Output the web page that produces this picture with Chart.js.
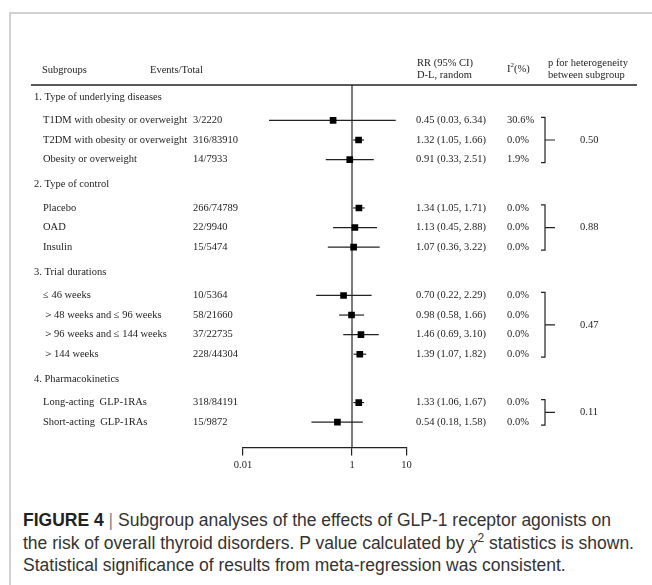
<!DOCTYPE html>
<html>
<head>
<meta charset="utf-8">
<script src="https://cdn.jsdelivr.net/npm/chart.js@4"></script>
<style>
  body { margin: 0; background: #fff; }
  #wrap { position: relative; width: 652px; height: 585px; overflow: hidden; }
  #frame { position: absolute; left: 9px; top: 12px; right: -4px; bottom: -4px;
           border-top: 2px solid #d0d0d0; border-left: 2px solid #d0d0d0; }
  #forest { position: absolute; left: 0; top: 0; }
  #caption { position: absolute; left: 23px; top: 509px; width: 629px; white-space: nowrap;
             font-family: "Liberation Sans", Arial, sans-serif; font-size: 17.5px;
             line-height: 22.5px; color: #333; }
  #caption b { color: #222; }
  #caption .bar { color: #888; }
  #caption .chi { font-family: "Liberation Serif", serif; font-style: italic; font-size: 19px; }
  #caption sup { font-size: 12px; line-height: 0; }
</style>
</head>
<body>
<div id="wrap">
  <div id="frame"></div>
  <canvas id="forest" width="652" height="500"></canvas>
  <div id="caption"><b>FIGURE 4</b> <span class="bar">|</span> Subgroup analyses of the effects of GLP-1 receptor agonists on<br>the risk of overall thyroid disorders. P value calculated by <span class="chi">χ</span><sup>2</sup> statistics is shown.<br>Statistical significance of results from meta-regression was consistent.</div>
</div>
<script>
// forest plot data
const sectionTitles = ["1. Type of underlying diseases", "2. Type of control", "3. Trial durations", "4. Pharmacokinetics"];
const subgroups = [
  "T1DM with obesity or overweight", "T2DM with obesity or overweight", "Obesity or overweight",
  "Placebo", "OAD", "Insulin",
  "≤ 46 weeks", "＞48 weeks and ≤ 96 weeks", "＞96 weeks and ≤ 144 weeks", "＞144 weeks",
  "Long-acting  GLP-1RAs", "Short-acting  GLP-1RAs"
];
const sectionOf = [0, 0, 0, 1, 1, 1, 2, 2, 2, 2, 3, 3];
const eventsTotal = ["3/2220", "316/83910", "14/7933", "266/74789", "22/9940", "15/5474",
  "10/5364", "58/21660", "37/22735", "228/44304", "318/84191", "15/9872"];
const rrEstimate = [0.45, 1.32, 0.91, 1.34, 1.13, 1.07, 0.70, 0.98, 1.46, 1.39, 1.33, 0.54];
const ciLower = [0.03, 1.05, 0.33, 1.05, 0.45, 0.36, 0.22, 0.58, 0.69, 1.07, 1.06, 0.18];
const ciUpper = [6.34, 1.66, 2.51, 1.71, 2.88, 3.22, 2.29, 1.66, 3.10, 1.82, 1.67, 1.58];
const i2Values = ["30.6%", "0.0%", "1.9%", "0.0%", "0.0%", "0.0%", "0.0%", "0.0%", "0.0%", "0.0%", "0.0%", "0.0%"];
const pHeterogeneity = ["0.50", "0.88", "0.47", "0.11"];
const axisTicks = [0.01, 1, 10];

// row positions in row units (section header, then its rows)
const sectionY = [];
const rowY = [];
let cursor = 0;
sectionTitles.forEach((t, s) => {
  sectionY.push(cursor);
  cursor += 1.2;
  sectionOf.forEach((sec, i) => {
    if (sec === s) { rowY[i] = cursor; cursor += 1; }
  });
  cursor += 0.27;
});

const INK = "#1c1c1c";
const SERIF = "'Liberation Serif', 'Times New Roman', serif";

const tablePlugin = {
  id: "forestTable",
  beforeDatasetsDraw(chart) {
    const { ctx, chartArea, scales } = chart;
    const x = scales.x, y = scales.y;
    ctx.save();
    ctx.strokeStyle = "#222";
    // header rule
    ctx.lineWidth = 1.5;
    ctx.beginPath();
    ctx.moveTo(31, chartArea.top);
    ctx.lineTo(637, chartArea.top);
    ctx.stroke();
    // line of no effect
    ctx.lineWidth = 1.2;
    ctx.beginPath();
    ctx.moveTo(x.getPixelForValue(1), chartArea.top);
    ctx.lineTo(x.getPixelForValue(1), chartArea.bottom);
    ctx.stroke();
    // confidence intervals
    ctx.lineWidth = 1.2;
    rrEstimate.forEach((v, i) => {
      const py = y.getPixelForValue(rowY[i]);
      ctx.beginPath();
      ctx.moveTo(x.getPixelForValue(ciLower[i]), py);
      ctx.lineTo(x.getPixelForValue(ciUpper[i]), py);
      ctx.stroke();
    });
    ctx.restore();
  },
  afterDatasetsDraw(chart) {
    const { ctx, scales } = chart;
    const y = scales.y;
    ctx.save();
    ctx.fillStyle = INK;
    ctx.strokeStyle = "#222";
    ctx.textBaseline = "middle";
    ctx.font = "10.5px " + SERIF;

    // column headers
    ctx.fillText("Subgroups", 42, 70);
    ctx.fillText("Events/Total", 150, 70);
    ctx.fillText("RR (95% CI)", 417, 63);
    ctx.fillText("D-L, random", 417, 75);
    ctx.fillText("I", 507, 69);
    const iw = ctx.measureText("I").width;
    ctx.font = "7px " + SERIF;
    ctx.fillText("2", 507 + iw, 65);
    const sw = ctx.measureText("2").width;
    ctx.font = "10.5px " + SERIF;
    ctx.fillText("(%)", 507 + iw + sw, 69);
    ctx.fillText("p for heterogeneity", 548, 63);
    ctx.fillText("between subgroup", 548, 75);

    sectionTitles.forEach((t, s) => ctx.fillText(t, 34, y.getPixelForValue(sectionY[s])));

    subgroups.forEach((name, i) => {
      const py = y.getPixelForValue(rowY[i]);
      ctx.fillText(name, 43, py);
      ctx.fillText(eventsTotal[i], 193, py);
      const rr = rrEstimate[i].toFixed(2) + " (" + ciLower[i].toFixed(2) + ", " + ciUpper[i].toFixed(2) + ")";
      ctx.fillText(rr, 416, py);
      ctx.fillText(i2Values[i], 507, py);
    });

    // brackets with subgroup-difference p values
    ctx.lineWidth = 1.2;
    pHeterogeneity.forEach((p, s) => {
      const ys = rowY.filter((v, i) => sectionOf[i] === s);
      const top = y.getPixelForValue(ys[0]) - 3;
      const bot = y.getPixelForValue(ys[ys.length - 1]) + 3;
      const mid = (top + bot) / 2;
      ctx.beginPath();
      ctx.moveTo(541, top);
      ctx.lineTo(545, top);
      ctx.lineTo(545, bot);
      ctx.lineTo(541, bot);
      ctx.moveTo(545, mid);
      ctx.lineTo(555, mid);
      ctx.stroke();
      ctx.fillText(p, 580, mid);
    });
    ctx.restore();
  }
};

const points = rrEstimate.map((v, i) => ({ x: v, y: rowY[i] }));

new Chart(document.getElementById("forest"), {
  type: "scatter",
  data: {
    datasets: [{
      data: points,
      pointStyle: "rect",
      pointRadius: 4.7,
      backgroundColor: "#000",
      borderColor: "#000",
      borderWidth: 0
    }]
  },
  options: {
    responsive: false,
    animation: false,
    events: [],
    layout: { padding: { left: 243, right: 245.5, top: 85, bottom: 24 } },
    plugins: { legend: { display: false }, tooltip: { enabled: false } },
    scales: {
      x: {
        type: "logarithmic",
        min: 0.01,
        max: 10,
        afterBuildTicks: scale => { scale.ticks = axisTicks.map(v => ({ value: v })); },
        ticks: {
          callback: v => String(v),
          autoSkip: false,
          maxRotation: 0,
          padding: 4,
          color: INK,
          font: { family: SERIF, size: 10.5 }
        },
        grid: { drawOnChartArea: false, drawTicks: true, tickLength: 8, color: "#222", lineWidth: 1.2 },
        border: { display: true, color: "#222", width: 1.2 }
      },
      y: { display: false, reverse: true, min: -0.61, max: 17.9 }
    }
  },
  plugins: [tablePlugin]
});
</script>
</body>
</html>
